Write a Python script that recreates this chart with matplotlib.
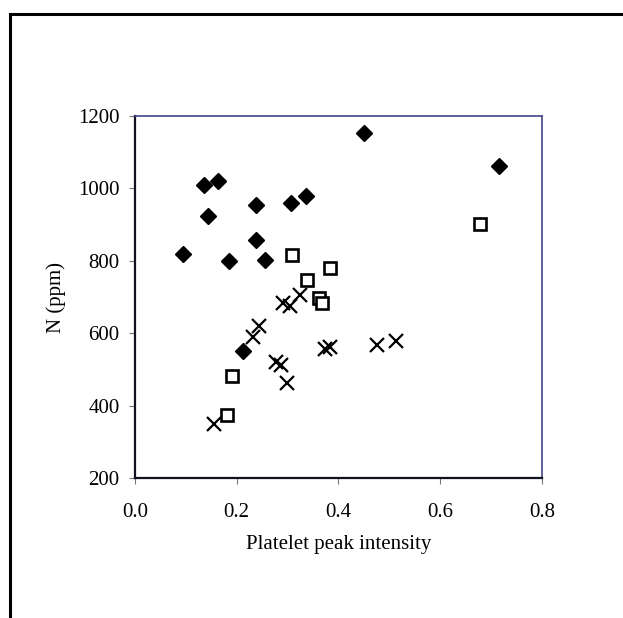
import matplotlib
matplotlib.use("Agg")
import matplotlib.pyplot as plt
from matplotlib.patches import Rectangle

plt.rcParams['font.family'] = ['Liberation Serif', 'DejaVu Serif']

# series
diamond_x = [0.094, 0.136, 0.164, 0.144, 0.185, 0.238, 0.238, 0.256, 0.307, 0.336, 0.451, 0.716, 0.213]
diamond_y = [818, 1009, 1020, 923, 800, 953, 857, 803, 959, 980, 1152, 1062, 552]

square_x = [0.309, 0.339, 0.383, 0.678, 0.362, 0.367, 0.190, 0.180]
square_y = [815, 747, 779, 901, 696, 683, 482, 374]

cross_x = [0.156, 0.233, 0.244, 0.277, 0.287, 0.299, 0.292, 0.305, 0.324, 0.373, 0.383, 0.475, 0.513]
cross_y = [349, 589, 621, 521, 511, 463, 683, 675, 706, 556, 561, 567, 578]

x_ticks = [0.0, 0.2, 0.4, 0.6, 0.8]
y_ticks = [200, 400, 600, 800, 1000, 1200]

fig = plt.figure(figsize=(6.23, 6.18), dpi=100)

# outer frame of the chart area (left and top edges visible)
fig.patches.append(Rectangle((10 / 623, -0.05), 1.2, 1 - 14 / 618 + 0.05,
                             transform=fig.transFigure, fill=False,
                             edgecolor='black', linewidth=2.2))

ax = fig.add_axes([0.2167, 0.2265, 0.653, 0.5858])

ax.plot(diamond_x, diamond_y, linestyle='none', marker='D', markersize=7.8,
        color='black')
ax.plot(square_x, square_y, linestyle='none', marker='s', markersize=8.5,
        markerfacecolor='white', markeredgecolor='black', markeredgewidth=1.9)
ax.plot(cross_x, cross_y, linestyle='none', marker='x', markersize=9.5,
        color='black', markeredgewidth=1.6)

ax.set_xlim(0, 0.8)
ax.set_ylim(200, 1200)
ax.set_xticks(x_ticks)
ax.set_yticks(y_ticks)
ax.set_xticklabels(['%.1f' % v for v in x_ticks])
ax.tick_params(direction='out', length=4, width=0.8, labelsize=15,
               color='#777777')
ax.tick_params(axis='x', pad=14)
ax.tick_params(axis='y', pad=7)

for side in ['left', 'bottom']:
    ax.spines[side].set_color('#111122')
    ax.spines[side].set_linewidth(1.6)
for side in ['top', 'right']:
    ax.spines[side].set_color('#444488')
    ax.spines[side].set_linewidth(1.2)

ax.set_xlabel('Platelet peak intensity', fontsize=15, labelpad=9)
ax.set_ylabel('N (ppm)', fontsize=15, labelpad=9)

fig.savefig('out.png', dpi=100)
